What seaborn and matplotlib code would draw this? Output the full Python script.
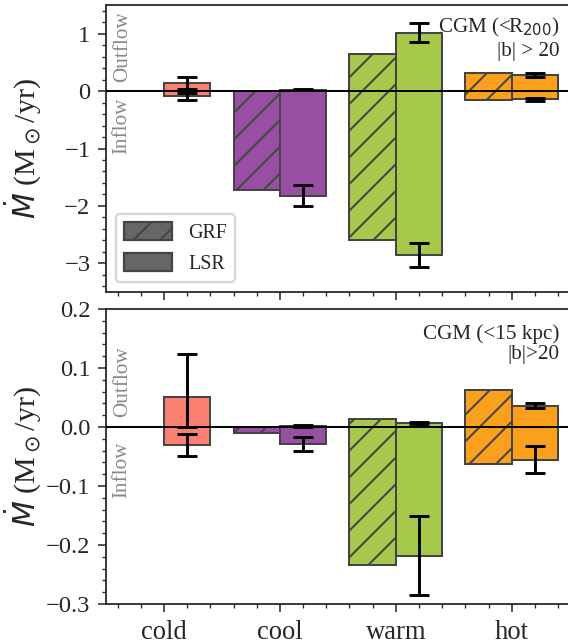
import numpy as np
import pandas as pd
import matplotlib
matplotlib.use('Agg')
import matplotlib.pyplot as plt
import matplotlib.transforms as mtransforms
from matplotlib.ticker import AutoMinorLocator, MultipleLocator
from matplotlib.patches import Patch
import seaborn as sns

phases = ['cold', 'cool', 'warm', 'hot']
frames = ['GRF', 'LSR']
phase_colors = ['#FA8072', '#984EA3', '#A6C84B', '#FBA01D']

# top panel: CGM (<R200), |b| > 20
top_out_grf = [0.003, 0.0, 0.655, 0.308]
top_in_grf = [-0.004, -1.73, -2.59, -0.157]
top_out_lsr = [0.144, 0.025, 1.02, 0.278]
top_in_lsr = [-0.087, -1.82, -2.85, -0.145]
top_out_lo = [0.03, 0.012, 0.85, 0.249]
top_out_hi = [0.25, 0.04, 1.19, 0.308]
top_in_lo = [-0.157, -2.0, -3.06, -0.169]
top_in_hi = [-0.025, -1.63, -2.64, -0.116]

# bottom panel: CGM (<15 kpc), |b|>20
bot_out_grf = [0.0005, 0.0005, 0.013, 0.0627]
bot_in_grf = [-0.0005, -0.011, -0.234, -0.063]
bot_out_lsr = [0.0514, 0.002, 0.0075, 0.0356]
bot_in_lsr = [-0.0305, -0.029, -0.218, -0.056]
bot_out_lo = [0.0, 0.0005, 0.005, 0.032]
bot_out_hi = [0.124, 0.0035, 0.009, 0.040]
bot_in_lo = [-0.049, -0.040, -0.285, -0.078]
bot_in_hi = [-0.0124, -0.0164, -0.151, -0.033]

sns.set_style('ticks')
plt.rcParams['font.family'] = ['Liberation Serif', 'DejaVu Serif']
plt.rcParams['axes.linewidth'] = 0.8
plt.rcParams['xtick.major.size'] = 3.5
plt.rcParams['ytick.major.size'] = 3.5
plt.rcParams['xtick.minor.size'] = 2
plt.rcParams['ytick.minor.size'] = 2
plt.rcParams['xtick.major.width'] = 0.7
plt.rcParams['ytick.major.width'] = 0.7
plt.rcParams['xtick.minor.width'] = 0.6
plt.rcParams['ytick.minor.width'] = 0.6
plt.rcParams['hatch.linewidth'] = 0.9


def draw_panel(ax, out_grf, in_grf, out_lsr, in_lsr, out_lo, out_hi, in_lo, in_hi):
    df = pd.DataFrame({
        'phase': phases * 2,
        'frame': ['GRF'] * 4 + ['LSR'] * 4,
        'out': out_grf + out_lsr,
        'in': in_grf + in_lsr,
    })
    for col in ['out', 'in']:
        sns.barplot(data=df, x='phase', y=col, hue='frame', order=phases,
                    hue_order=frames, width=0.8, errorbar=None, legend=False,
                    ax=ax, zorder=2)
    lsr_x = {}
    for bar in ax.patches:
        c = bar.get_x() + bar.get_width() / 2
        i = int(round(c))
        bar.set_facecolor(phase_colors[i])
        bar.set_edgecolor('#444444')
        bar.set_linewidth(0.9)
        if c < i:
            bar.set_hatch('//')
        else:
            lsr_x[i] = c
    x = np.array([lsr_x[i] for i in range(len(phases))])
    ax.axhline(0, color='k', lw=0.9, zorder=3)
    for val, lo, hi in [(out_lsr, out_lo, out_hi), (in_lsr, in_lo, in_hi)]:
        val = np.array(val)
        yerr = [val - np.array(lo), np.array(hi) - val]
        ax.errorbar(x, val, yerr=yerr, fmt='none', ecolor='k', elinewidth=1.3,
                    capsize=4.6, capthick=1.3, zorder=4)
    ax.set_xlim(-0.5, 3.5)
    ax.set_xlabel('')
    ax.set_ylabel(r'$\dot{M}$ (M$_\odot$/yr)', fontsize=13.5)
    ax.yaxis.set_label_coords(-0.134, 0.5)
    ax.xaxis.set_minor_locator(AutoMinorLocator(5))
    ax.yaxis.set_minor_locator(AutoMinorLocator(5))
    ax.tick_params(labelsize=11)
    for s in ax.spines.values():
        s.set_visible(True)


fig = plt.figure(figsize=(3.55, 4.01875))
ax1 = fig.add_axes([0.1866, 0.5459, 0.8165, 0.4463])
ax2 = fig.add_axes([0.1866, 0.0607, 0.8165, 0.4588], sharex=ax1)

draw_panel(ax1, top_out_grf, top_in_grf, top_out_lsr, top_in_lsr,
           top_out_lo, top_out_hi, top_in_lo, top_in_hi)
draw_panel(ax2, bot_out_grf, bot_in_grf, bot_out_lsr, bot_in_lsr,
           bot_out_lo, bot_out_hi, bot_in_lo, bot_in_hi)

ax1.set_ylim(-3.5, 1.5)
ax1.yaxis.set_major_locator(MultipleLocator(1))
ax1.tick_params(axis='x', labelbottom=False)
ax2.set_ylim(-0.3, 0.2)
ax2.yaxis.set_major_locator(MultipleLocator(0.1))
ax2.set_xticks(range(len(phases)))
ax2.set_xticklabels(phases, fontsize=12)

ax1.text(0.978, 0.962, 'CGM (<R$_{200}$)\n|b| > 20', transform=ax1.transAxes,
         ha='right', va='top', fontsize=9.5, linespacing=1.25)
ax2.text(0.978, 0.948, 'CGM (<15 kpc)\n|b|>20', transform=ax2.transAxes,
         ha='right', va='top', fontsize=9.5, linespacing=1.1)

for ax, up, dn in [(ax1, 0.16, -0.12), (ax2, 0.017, -0.025)]:
    tr = mtransforms.blended_transform_factory(ax.transAxes, ax.transData)
    ax.text(0.035, up, 'Outflow', transform=tr, rotation=90, ha='center',
            va='bottom', color='#888888', fontsize=9.5)
    ax.text(0.035, dn, 'Inflow', transform=tr, rotation=90, ha='center',
            va='top', color='#888888', fontsize=9.5)

handles = [Patch(facecolor='#666666', edgecolor='#444444', hatch='//', label='GRF'),
           Patch(facecolor='#666666', edgecolor='#444444', label='LSR')]
ax1.legend(handles=handles, loc='lower left', fontsize=9, handlelength=2.4,
           handleheight=1.0, frameon=True)

fig.savefig('out.png', dpi=160)
